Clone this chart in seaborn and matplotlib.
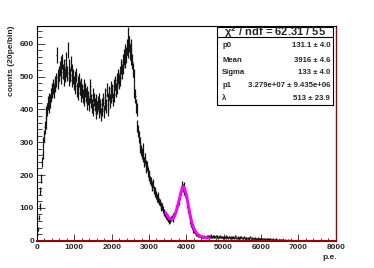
import numpy as np
import matplotlib
matplotlib.use("Agg")
import matplotlib.pyplot as plt
import seaborn as sns
from matplotlib.patches import Rectangle
from matplotlib.ticker import MultipleLocator

# histogram contents, 20 pe per bin, 0..8000 pe
counts = [
    20, 35, 70, 105, 150, 190, 240, 265, 300, 320,
    345, 360, 390, 400, 420, 410, 430, 425, 445, 455,
    460, 470, 455, 480, 475, 490, 565, 500, 485, 510,
    525, 540, 500, 545, 515, 495, 530, 505, 550, 520,
    510, 580, 495, 530, 505, 540, 490, 515, 500, 480,
    495, 470, 505, 460, 480, 450, 490, 465, 445, 475,
    455, 440, 470, 430, 460, 445, 420, 450, 435, 415,
    440, 470, 425, 410, 445, 400, 430, 415, 390, 425,
    405, 420, 395, 430, 410, 385, 415, 400, 430, 395,
    420, 445, 410, 460, 430, 400, 450, 425, 465, 440,
    455, 430, 470, 445, 480, 460, 490, 470, 500, 485,
    510, 495, 530, 515, 545, 530, 560, 550, 575, 565,
    590, 580, 625, 600, 575, 590, 560, 545, 520, 500,
    455, 440, 410, 400, 350, 335, 315, 300, 285, 275,
    265, 280, 255, 240, 250, 230, 220, 228, 210, 200,
    195, 185, 180, 170, 165, 175, 155, 150, 145, 140,
    130, 138, 125, 120, 115, 108, 100, 104, 95, 88,
    85, 80, 76, 70, 72, 66, 60, 64, 62, 68,
    70, 66, 75, 80, 85, 95, 100, 108, 115, 120,
    130, 140, 150, 155, 170, 160, 165, 150, 145, 135,
    125, 110, 95, 80, 70, 58, 48, 42, 35, 30,
    28, 25, 22, 20, 18, 16, 17, 15, 14, 12,
    13, 11, 12, 14, 10, 12, 11, 13, 15, 12,
    14, 11, 16, 12, 10, 13, 15, 11, 12, 14,
    10, 13, 9, 12, 15, 11, 10, 12, 9, 11,
    12, 10, 9, 13, 11, 8, 10, 12, 9, 10,
    11, 9, 12, 8, 10, 13, 9, 7, 10, 9,
    8, 10, 9, 11, 7, 9, 8, 10, 6, 9,
    8, 7, 9, 6, 8, 10, 7, 6, 8, 7,
    6, 8, 7, 5, 7, 6, 9, 5, 6, 7,
    5, 6, 7, 4, 6, 5, 4, 6, 5, 4,
    5, 4, 6, 3, 4, 5, 3, 4, 3, 5,
    3, 4, 2, 3, 4, 2, 3, 2, 3, 2,
    2, 3, 1, 2, 2, 1, 3, 1, 2, 1,
    1, 2, 1, 0, 1, 2, 0, 1, 1, 0,
    1, 0, 0, 1, 0, 2, 0, 0, 1, 0,
    0, 0, 1, 0, 0, 0, 1, 0, 0, 0,
    0, 1, 0, 0, 0, 0, 0, 1, 0, 0,
    0, 0, 0, 1, 0, 0, 0, 0, 0, 0,
    0, 0, 0, 0, 0, 1, 0, 0, 0, 0,
]
bin_width = 20
bin_centers = [bin_width * i + bin_width / 2 for i in range(len(counts))]

# fitted curve (gaus + exp)
fit_x = [3450, 3500, 3550, 3600, 3650, 3700, 3750, 3800, 3850, 3900, 3920,
         3950, 4000, 4050, 4100, 4150, 4200, 4250, 4300, 4350, 4400, 4450,
         4500, 4550, 4600]
fit_y = [85, 75, 67, 65, 68, 80, 97, 120, 145, 162, 165,
         160, 140, 110, 80, 55, 38, 27, 20, 16, 13, 11,
         10, 9, 8]

stat_names = ["p0", "Mean", "Sigma", "p1", "\u03bb"]
stat_values = ["131.1 \u00b1 4.0", "3916 \u00b1 4.6", "133 \u00b1 4.0",
               "3.279e+07 \u00b1 9.435e+06", "513 \u00b1 23.9"]
stat_title = r"$\chi^2$ / ndf = 62.31 / 55"

sns.set_style("ticks")
plt.rcParams["font.family"] = ["Liberation Sans", "DejaVu Sans"]
plt.rcParams["mathtext.fontset"] = "custom"
plt.rcParams["mathtext.rm"] = "Liberation Sans:bold"
plt.rcParams["mathtext.it"] = "Liberation Sans:bold"

W, H = 374, 268
fig = plt.figure(figsize=(W / 100, H / 100), dpi=100)

def fx(px):
    return px / W

def fy(py):
    return 1 - py / H

ax = fig.add_axes([fx(37), fy(240.7), fx(335.7) - fx(37), fy(26) - fy(240.7)])

err = np.sqrt(np.array(counts, dtype=float))
ax.errorbar(bin_centers, counts, yerr=err, xerr=bin_width / 2, fmt="none",
            ecolor="#151515", elinewidth=0.9, capsize=0)
sns.lineplot(x=fit_x, y=fit_y, color="#ff00ff", lw=2, ax=ax)

ax.set_xlim(0, 8000)
ax.set_ylim(0, 654)
ax.xaxis.set_major_locator(MultipleLocator(1000))
ax.xaxis.set_minor_locator(MultipleLocator(200))
ax.yaxis.set_major_locator(MultipleLocator(100))
ax.yaxis.set_minor_locator(MultipleLocator(20))
ax.tick_params(axis="both", which="both", direction="in", labelsize=6,
               width=0.6, top=False, right=False)
ax.tick_params(axis="y", which="major", length=5.8, pad=2.2)
ax.tick_params(axis="y", which="minor", length=3.4)
ax.tick_params(axis="x", which="major", length=4.8, pad=2.5)
ax.tick_params(axis="x", which="minor", length=2.4)
for lab in ax.get_xticklabels() + ax.get_yticklabels():
    lab.set_fontweight("bold")

for side in ["left", "top"]:
    ax.spines[side].set_color("black")
    ax.spines[side].set_linewidth(0.8)
ax.spines["bottom"].set_color("#a00000")
ax.spines["bottom"].set_linewidth(1.5)
ax.spines["right"].set_color("#a00000")
ax.spines["right"].set_linewidth(1.0)

fig.text(fx(11.7), fy(25), "counts (20pe/bin)", rotation=90, ha="center",
         va="top", fontsize=6, fontweight="bold")
fig.text(fx(337), fy(257.5), "p.e.", ha="right", va="center", fontsize=6,
         fontweight="bold")

# stats box with shadow
bx0, bx1, by0, by1 = 216.7, 332.5, 26.7, 105.2
fig.patches.append(Rectangle((fx(bx0 + 1.2), fy(by1 + 1.2)), fx(bx1) - fx(bx0),
                             fy(by0) - fy(by1), transform=fig.transFigure,
                             facecolor="black", edgecolor="none", zorder=5))
fig.patches.append(Rectangle((fx(bx0), fy(by1)), fx(bx1) - fx(bx0),
                             fy(by0) - fy(by1), transform=fig.transFigure,
                             facecolor="white", edgecolor="black", lw=0.8,
                             zorder=6))
fig.add_artist(plt.Line2D([fx(bx0), fx(bx1)], [fy(37.3), fy(37.3)],
                          transform=fig.transFigure, color="black", lw=0.8,
                          zorder=7))
fig.text(fx((bx0 + bx1) / 2), fy(32), stat_title, ha="center", va="center",
         fontsize=8, fontweight="bold", zorder=8)
row_y = [46, 60, 72, 86, 98.3]
for name, val, ry in zip(stat_names, stat_values, row_y):
    fig.text(fx(222.3), fy(ry), name, ha="left", va="center", fontsize=5.6,
             fontweight="bold", zorder=8)
    fig.text(fx(330), fy(ry), val, ha="right", va="center", fontsize=5.6,
             fontweight="bold", zorder=8)

fig.savefig("out.png", dpi=100)
